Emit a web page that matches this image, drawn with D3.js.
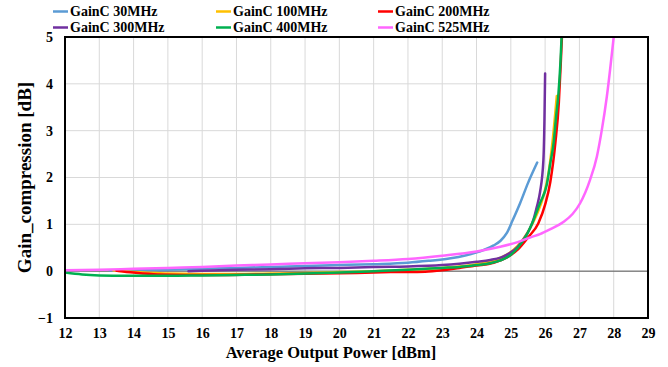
<!DOCTYPE html>
<html>
<head>
<meta charset="utf-8">
<script src="https://cdn.jsdelivr.net/npm/d3@7"></script>
<style>
  html, body { margin: 0; padding: 0; background: #fff; }
  svg text { font-family: "Liberation Serif", "Times New Roman", serif; font-weight: bold; fill: #000; }
</style>
</head>
<body>
<svg id="chart" width="668" height="367"></svg>
<script>
// Gain compression vs. average output power, one curve per frequency
const seriesNames = ["GainC 30MHz", "GainC 100MHz", "GainC 200MHz", "GainC 300MHz", "GainC 400MHz", "GainC 525MHz"];
const seriesColors = ["#5B9BD5", "#FFC000", "#FF0000", "#7030A0", "#00B050", "#FF66FF"];

const gain30 = [[13.3,0.02],[14,0.02],[15,0.03],[16,0.05],[17,0.07],[18,0.09],[19,0.11],[20,0.13],[21,0.15],[22,0.18],[22.6,0.22],[23.2,0.27],[23.7,0.34],[24.2,0.45],[24.5,0.55],[24.7,0.65],[24.88,0.81],[25.05,1.08],[25.27,1.45],[25.5,1.88],[25.77,2.32]];
const gain100 = [[13.4,0.02],[14,-0.02],[15,-0.05],[16,-0.06],[17,-0.06],[18,-0.05],[19,-0.04],[20,-0.02],[21,0.0],[22,0.03],[23,0.07],[23.5,0.1],[24,0.15],[24.5,0.23],[24.9,0.36],[25.2,0.54],[25.5,0.84],[25.75,1.2],[25.95,1.6],[26.1,2.1],[26.22,2.8],[26.34,3.74]];
const gain200 = [[13.5,0.01],[14,-0.03],[14.7,-0.07],[15.5,-0.08],[16.5,-0.08],[17.5,-0.07],[18.5,-0.06],[19.5,-0.05],[20.5,-0.04],[21.5,-0.02],[22.5,-0.01],[23,0.02],[23.5,0.07],[24,0.12],[24.5,0.18],[24.9,0.3],[25.2,0.46],[25.5,0.72],[25.8,1.02],[26.0,1.42],[26.15,1.9],[26.3,2.75],[26.4,3.6],[26.46,4.5],[26.49,5.0]];
const gain300 = [[15.6,0.0],[16,0.01],[17,0.03],[18,0.04],[19,0.06],[20,0.07],[21,0.09],[22,0.1],[23,0.13],[23.5,0.16],[24,0.2],[24.4,0.24],[24.7,0.29],[24.98,0.39],[25.2,0.52],[25.37,0.68],[25.55,0.9],[25.66,1.1],[25.76,1.38],[25.85,1.68],[25.95,2.37],[25.98,3.2],[26.0,4.22]];
const gain400 = [[12,-0.03],[12.5,-0.07],[13,-0.09],[13.8,-0.1],[15,-0.1],[16,-0.09],[17,-0.08],[18,-0.07],[19,-0.05],[20,-0.03],[21,0.0],[22,0.03],[23,0.07],[23.5,0.09],[24,0.13],[24.4,0.17],[24.7,0.23],[25.0,0.35],[25.2,0.5],[25.45,0.76],[25.66,1.09],[25.85,1.45],[26.05,1.85],[26.15,2.3],[26.25,2.75],[26.32,3.3],[26.39,3.8],[26.45,4.5],[26.48,5.0]];
const gain525 = [[12,0.02],[13,0.03],[14,0.05],[15,0.07],[16,0.09],[17,0.12],[18,0.14],[19,0.17],[20,0.19],[21,0.22],[22,0.26],[23,0.33],[24,0.42],[24.69,0.52],[25.2,0.62],[25.56,0.72],[25.85,0.79],[26.14,0.89],[26.53,1.05],[26.8,1.22],[27.02,1.45],[27.31,1.95],[27.51,2.45],[27.65,3.0],[27.8,3.73],[28.0,5.0]];
const seriesData = [gain30, gain100, gain200, gain300, gain400, gain525];

const xTicks = [12,13,14,15,16,17,18,19,20,21,22,23,24,25,26,27,28,29];
const yTicks = [-1,0,1,2,3,4,5];

const svg = d3.select("#chart");
const plot = { left: 65, right: 648, top: 37, bottom: 318 };

const x = d3.scaleLinear().domain([12, 29]).range([plot.left, plot.right]);
const y = d3.scaleLinear().domain([-1, 5]).range([plot.bottom, plot.top]);

// grid
const grid = svg.append("g");
grid.selectAll("line.vx").data(xTicks).join("line")
  .attr("x1", d => x(d)).attr("x2", d => x(d))
  .attr("y1", plot.top).attr("y2", plot.bottom)
  .attr("stroke", "#d9d9d9").attr("stroke-width", 1);
grid.selectAll("line.hy").data(yTicks).join("line")
  .attr("x1", plot.left).attr("x2", plot.right)
  .attr("y1", d => y(d)).attr("y2", d => y(d))
  .attr("stroke", "#d9d9d9").attr("stroke-width", 1);

// zero reference line
svg.append("line")
  .attr("x1", plot.left).attr("x2", plot.right)
  .attr("y1", y(0)).attr("y2", y(0))
  .attr("stroke", "#595959").attr("stroke-width", 1);

// axes (labels only)
const xAxis = svg.append("g").attr("transform", `translate(0,${plot.bottom})`)
  .call(d3.axisBottom(x).tickValues(xTicks).tickFormat(d3.format("d")).tickSize(0).tickPadding(10));
const yAxis = svg.append("g").attr("transform", `translate(${plot.left},0)`)
  .call(d3.axisLeft(y).tickValues(yTicks).tickFormat(d3.format("d")).tickSize(0).tickPadding(12));
[xAxis, yAxis].forEach(a => {
  a.select(".domain").remove();
  a.selectAll("text").style("font-size", "14px").style("font-family", "'Liberation Serif', serif").style("font-weight", "bold");
});

// curves
const line = d3.line().x(d => x(d[0])).y(d => y(d[1])).curve(d3.curveMonotoneX);
svg.append("clipPath").attr("id", "plotclip").append("rect")
  .attr("x", plot.left).attr("y", plot.top - 1)
  .attr("width", plot.right - plot.left).attr("height", plot.bottom - plot.top + 1);
svg.append("g").attr("clip-path", "url(#plotclip)")
  .selectAll("path").data(seriesData).join("path")
  .attr("d", line)
  .attr("fill", "none")
  .attr("stroke", (d, i) => seriesColors[i])
  .attr("stroke-width", 2.5)
  .attr("stroke-linecap", "round");

// plot border
svg.append("rect")
  .attr("x", plot.left).attr("y", plot.top)
  .attr("width", plot.right - plot.left).attr("height", plot.bottom - plot.top)
  .attr("fill", "none").attr("stroke", "#000").attr("stroke-width", 2);

// axis titles
svg.append("text")
  .attr("x", 331).attr("y", 358)
  .attr("text-anchor", "middle").style("font-size", "16.5px")
  .text("Average Output Power [dBm]");
svg.append("text")
  .attr("transform", `translate(31,${(plot.top + plot.bottom) / 2}) rotate(-90)`)
  .attr("text-anchor", "middle").style("font-size", "19px")
  .text("Gain_compression [dB]");

// legend: two rows of three entries
const legendX = [53, 216, 378];
const legendY = [11.5, 27.5];
const legend = svg.append("g");
seriesNames.forEach((name, i) => {
  const lx = legendX[i % 3], ly = legendY[Math.floor(i / 3)];
  legend.append("line")
    .attr("x1", lx).attr("x2", lx + 15).attr("y1", ly).attr("y2", ly)
    .attr("stroke", seriesColors[i]).attr("stroke-width", 2.5);
  legend.append("text")
    .attr("x", lx + 17).attr("y", ly + 4.5)
    .style("font-size", "14px")
    .text(name);
});
</script>
</body>
</html>
